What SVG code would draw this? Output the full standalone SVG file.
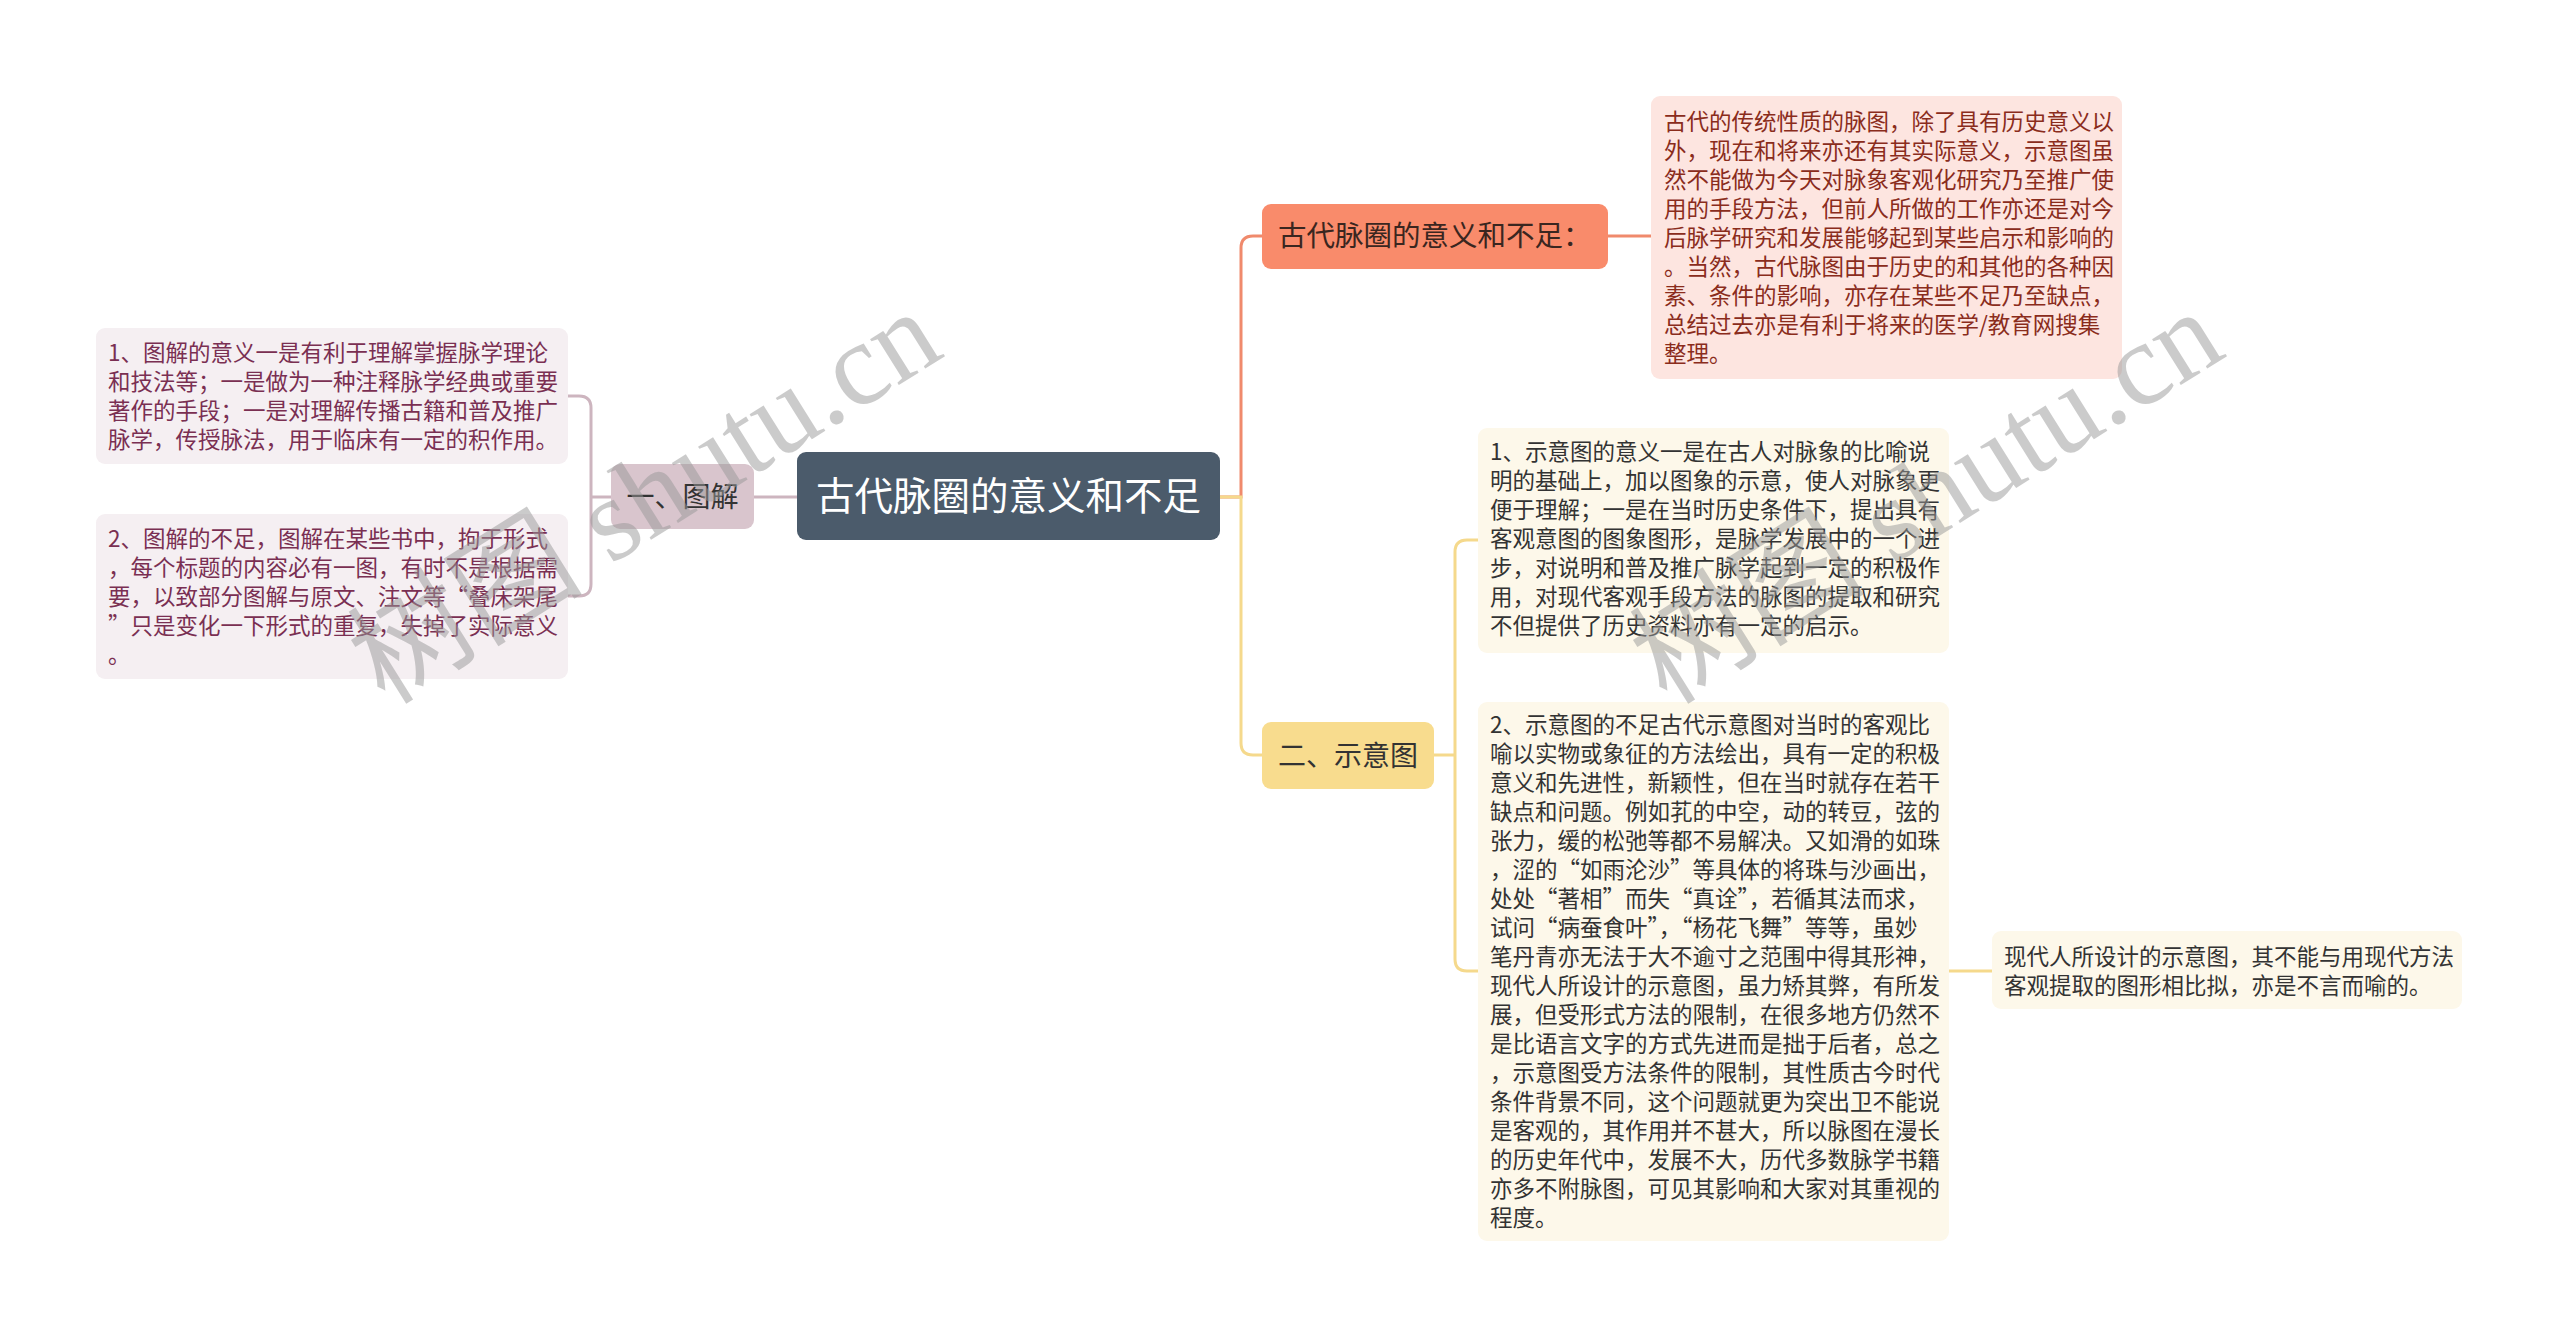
<svg xmlns="http://www.w3.org/2000/svg" width="2560" height="1339" viewBox="0 0 2560 1339">
<style>
.t{font-family:"Noto Sans CJK SC","Noto Sans",sans-serif;font-size:22.5px}
.lt{fill:#7a2f52}
.ot{fill:#8a2c1c}
.yt{fill:#333333}
.c{fill:none;stroke-width:3;stroke-linecap:round}
.wm{font-family:"Liberation Serif","Noto Sans CJK SC",serif;font-size:118px;fill:#999;opacity:0.5}
</style>
<rect width="2560" height="1339" fill="#ffffff"/>
<g id="connectors">
<path class="c" stroke="#f08a6c" d="M1220,497 H1241 V248 Q1241,236 1253,236 H1262"/>
<path class="c" stroke="#f5d98c" d="M1220,497 H1241 V743 Q1241,755 1253,755 H1262"/>
<path class="c" stroke="#f08a6c" d="M1608,236 H1651"/>
<path class="c" stroke="#f5d98c" d="M1434,755 H1455 M1478,540 H1467 Q1455,540 1455,552 V959 Q1455,971 1467,971 H1478"/>
<path class="c" stroke="#f5d98c" d="M1949,971 H1992"/>
<path class="c" stroke="#cdb5bf" d="M797,497 H754 M611,497 H591 M568,396 H579 Q591,396 591,408 V584 Q591,596 579,596 H568"/>
</g>
<g id="root">
<rect x="797" y="452" width="423" height="88" rx="9" fill="#4b5b6b"/>
<text x="1008.5" y="510" text-anchor="middle" style="font-family:'Noto Sans CJK SC',sans-serif;font-size:38.5px;fill:#ffffff">古代脉圈的意义和不足</text>
</g>
<g id="n-tujie">
<rect x="611" y="464" width="143" height="65" rx="9" fill="#d9c5cd"/>
<text x="682.5" y="507" text-anchor="middle" style="font-family:'Noto Sans CJK SC',sans-serif;font-size:28px;fill:#333">一、图解</text>
</g>
<g id="leaf-tujie-1">
<rect x="96" y="328" width="472" height="136" rx="9" fill="#f5eff2"/>
<text class="t lt"><tspan x="108" y="361">1、图解的意义一是有利于理解掌握脉学理论</tspan><tspan x="108" y="390">和技法等；一是做为一种注释脉学经典或重要</tspan><tspan x="108" y="419">著作的手段；一是对理解传播古籍和普及推广</tspan><tspan x="108" y="448">脉学，传授脉法，用于临床有一定的积作用。</tspan></text>
</g>
<g id="leaf-tujie-2">
<rect x="96" y="514" width="472" height="165" rx="9" fill="#f5eff2"/>
<text class="t lt"><tspan x="108" y="547">2、图解的不足，图解在某些书中，拘于形式</tspan><tspan x="108" y="576">，每个标题的内容必有一图，有时不是根据需</tspan><tspan x="108" y="605">要，以致部分图解与原文、注文等“叠床架尾</tspan><tspan x="108" y="634">”只是变化一下形式的重复，失掉了实际意义</tspan><tspan x="108" y="663">。</tspan></text>
</g>
<g id="n-yiyi">
<rect x="1262" y="204" width="346" height="65" rx="9" fill="#f98b6b"/>
<text x="1278" y="246" style="font-family:'Noto Sans CJK SC',sans-serif;font-size:28.5px;fill:#3a2620">古代脉圈的意义和不足：</text>
</g>
<g id="leaf-yiyi">
<rect x="1651" y="96" width="471" height="283" rx="9" fill="#fde5e0"/>
<text class="t ot"><tspan x="1664" y="130">古代的传统性质的脉图，除了具有历史意义以</tspan><tspan x="1664" y="159">外，现在和将来亦还有其实际意义，示意图虽</tspan><tspan x="1664" y="188">然不能做为今天对脉象客观化研究乃至推广使</tspan><tspan x="1664" y="217">用的手段方法，但前人所做的工作亦还是对今</tspan><tspan x="1664" y="246">后脉学研究和发展能够起到某些启示和影响的</tspan><tspan x="1664" y="275">。当然，古代脉图由于历史的和其他的各种因</tspan><tspan x="1664" y="304">素、条件的影响，亦存在某些不足乃至缺点，</tspan><tspan x="1664" y="333">总结过去亦是有利于将来的医学/教育网搜集</tspan><tspan x="1664" y="362">整理。</tspan></text>
</g>
<g id="n-shiyitu">
<rect x="1262" y="722" width="172" height="67" rx="9" fill="#f8dc8e"/>
<text x="1348" y="766" text-anchor="middle" style="font-family:'Noto Sans CJK SC',sans-serif;font-size:28px;fill:#333">二、示意图</text>
</g>
<g id="leaf-shiyitu-1">
<rect x="1478" y="428" width="471" height="225" rx="9" fill="#fdf8ea"/>
<text class="t yt"><tspan x="1490" y="460">1、示意图的意义一是在古人对脉象的比喻说</tspan><tspan x="1490" y="489">明的基础上，加以图象的示意，使人对脉象更</tspan><tspan x="1490" y="518">便于理解；一是在当时历史条件下，提出具有</tspan><tspan x="1490" y="547">客观意图的图象图形，是脉学发展中的一个进</tspan><tspan x="1490" y="576">步，对说明和普及推广脉学起到一定的积极作</tspan><tspan x="1490" y="605">用，对现代客观手段方法的脉图的提取和研究</tspan><tspan x="1490" y="634">不但提供了历史资料亦有一定的启示。</tspan></text>
</g>
<g id="leaf-shiyitu-2">
<rect x="1478" y="702" width="471" height="539" rx="9" fill="#fdf8ea"/>
<text class="t yt"><tspan x="1490" y="733">2、示意图的不足古代示意图对当时的客观比</tspan><tspan x="1490" y="762">喻以实物或象征的方法绘出，具有一定的积极</tspan><tspan x="1490" y="791">意义和先进性，新颖性，但在当时就存在若干</tspan><tspan x="1490" y="820">缺点和问题。例如芤的中空，动的转豆，弦的</tspan><tspan x="1490" y="849">张力，缓的松弛等都不易解决。又如滑的如珠</tspan><tspan x="1490" y="878">，涩的“如雨沦沙”等具体的将珠与沙画出，</tspan><tspan x="1490" y="907">处处“著相”而失“真诠”，若循其法而求，</tspan><tspan x="1490" y="936">试问“病蚕食叶”，“杨花飞舞”等等，虽妙</tspan><tspan x="1490" y="965">笔丹青亦无法于大不逾寸之范围中得其形神，</tspan><tspan x="1490" y="994">现代人所设计的示意图，虽力矫其弊，有所发</tspan><tspan x="1490" y="1023">展，但受形式方法的限制，在很多地方仍然不</tspan><tspan x="1490" y="1052">是比语言文字的方式先进而是拙于后者，总之</tspan><tspan x="1490" y="1081">，示意图受方法条件的限制，其性质古今时代</tspan><tspan x="1490" y="1110">条件背景不同，这个问题就更为突出卫不能说</tspan><tspan x="1490" y="1139">是客观的，其作用并不甚大，所以脉图在漫长</tspan><tspan x="1490" y="1168">的历史年代中，发展不大，历代多数脉学书籍</tspan><tspan x="1490" y="1197">亦多不附脉图，可见其影响和大家对其重视的</tspan><tspan x="1490" y="1226">程度。</tspan></text>
</g>
<g id="leaf-xiandai">
<rect x="1992" y="931" width="470" height="78" rx="9" fill="#fdf8ea"/>
<text class="t yt"><tspan x="2004" y="965">现代人所设计的示意图，其不能与用现代方法</tspan><tspan x="2004" y="994">客观提取的图形相比拟，亦是不言而喻的。</tspan></text>
</g>
<g id="watermarks">
<text class="wm" transform="translate(385,706) rotate(-32)">树图 shutu.cn</text>
<text class="wm" transform="translate(1667,706) rotate(-32)">树图 shutu.cn</text>
</g>
</svg>
